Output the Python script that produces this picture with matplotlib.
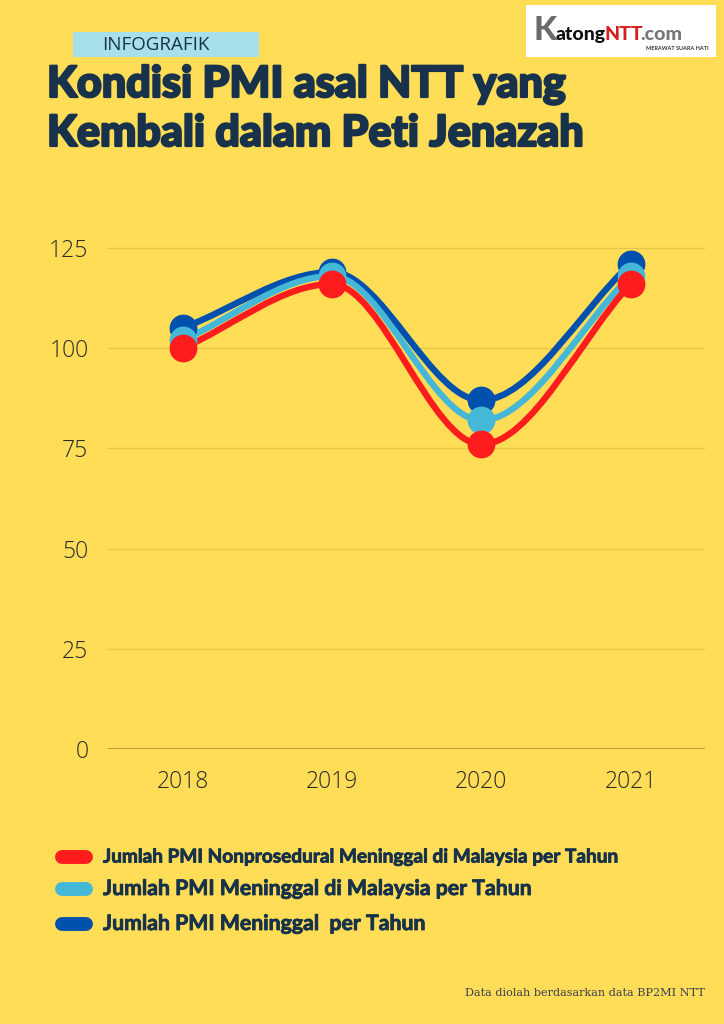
import numpy as np
import matplotlib
matplotlib.use("Agg")
import matplotlib.pyplot as plt
import matplotlib.patheffects as pe
from matplotlib.path import Path
from matplotlib.patches import PathPatch, Rectangle
from matplotlib.lines import Line2D

tahun = ["2018", "2019", "2020", "2021"]
pmi_total = [105, 119, 87, 121]
pmi_malaysia = [102, 118, 82, 118]
pmi_nonprosedural = [100, 116, 76, 116]
label_total = "Jumlah PMI Meninggal  per Tahun"
label_malaysia = "Jumlah PMI Meninggal di Malaysia per Tahun"
label_nonpro = "Jumlah PMI Nonprosedural Meninggal di Malaysia per Tahun"
y_ticks = [0, 25, 50, 75, 100, 125]

bg = "#FFDD57"
navy = "#17324a"
c_red = "#FF1C1C"
c_cyan = "#45B8D8"
c_blue = "#0050AE"


def smooth_path(xs, ys):
    # monotone cubic, drawn as bezier segments through the data points
    xs = np.asarray(xs, float)
    ys = np.asarray(ys, float)
    d = np.diff(ys) / np.diff(xs)
    m = np.zeros(len(xs))
    m[0] = d[0]
    m[-1] = d[-1]
    for i in range(1, len(xs) - 1):
        if d[i - 1] * d[i] <= 0:
            m[i] = 0
        else:
            m[i] = 2 / (1 / d[i - 1] + 1 / d[i])
    verts = [(xs[0], ys[0])]
    codes = [Path.MOVETO]
    for i in range(len(xs) - 1):
        h = xs[i + 1] - xs[i]
        verts += [(xs[i] + h / 3, ys[i] + m[i] * h / 3),
                  (xs[i + 1] - h / 3, ys[i + 1] - m[i + 1] * h / 3),
                  (xs[i + 1], ys[i + 1])]
        codes += [Path.CURVE4] * 3
    return Path(verts, codes)


fig = plt.figure(figsize=(7.24, 10.24), dpi=100)
fig.patch.set_facecolor(bg)
ax = fig.add_axes([0.149, 0.2686, 0.825, 0.5088])
ax.set_facecolor(bg)

x = np.arange(len(tahun))
for vals, col in [(pmi_total, c_blue), (pmi_malaysia, c_cyan), (pmi_nonprosedural, c_red)]:
    p = PathPatch(smooth_path(x, vals), facecolor="none", edgecolor=col, lw=4.6,
                  capstyle="round", joinstyle="round", clip_on=False)
    ax.add_patch(p)
    ax.plot(x, vals, "o", color=col, ms=19, clip_on=False, zorder=3)

ax.set_xlim(-0.5, 3.5)
ax.set_ylim(0, 130)
ax.set_yticks(y_ticks)
ax.set_xticks(x)
ax.set_xticklabels(tahun)
for s in ax.spines.values():
    s.set_visible(False)
ax.grid(axis="y", color="#E8C547", lw=1)
ax.axhline(0, color="#A89434", lw=1.2)
ax.set_axisbelow(True)
ax.tick_params(length=0, labelsize=16.5, labelcolor="#2a2a2a")
ax.tick_params(axis="x", pad=15)
ax.tick_params(axis="y", pad=14)
for t in ax.get_xticklabels() + ax.get_yticklabels():
    t.set_fontfamily("Open Sans")
    t.set_fontweight("light")

# header
fig.patches.append(Rectangle((73 / 724, 1 - 57 / 1024), 186 / 724, 25 / 1024,
                             transform=fig.transFigure, facecolor="#A8E0EA", edgecolor="none"))
fig.text(156 / 724, 1 - 45 / 1024, "INFOGRAFIK", fontsize=13.5, color=navy,
         family="Open Sans", ha="center", va="center")
thick = [pe.withStroke(linewidth=1.6, foreground=navy)]
fig.text(47 / 724, 1 - 97 / 1024, "Kondisi PMI asal NTT yang", fontsize=31, color=navy,
         family="Lato", fontweight="black", ha="left", va="baseline", path_effects=thick)
fig.text(47 / 724, 1 - 146 / 1024, "Kembali dalam Peti Jenazah", fontsize=31, color=navy,
         family="Lato", fontweight="black", ha="left", va="baseline", path_effects=thick)

# logo box
fig.patches.append(Rectangle((526 / 724, 1 - 57 / 1024), 190 / 724, 52 / 1024,
                             transform=fig.transFigure, facecolor="white", edgecolor="none"))
fig.text(533 / 724, 1 - 40 / 1024, "K", fontsize=24, color="#6b6b6b", family="Lato",
         fontweight="black", va="baseline")
fig.text(556 / 724, 1 - 40 / 1024, "atong", fontsize=14, color="#111111", family="Lato",
         fontweight="black", va="baseline")
fig.text(605 / 724, 1 - 40 / 1024, "NTT", fontsize=14, color="#d81e1e", family="Lato",
         fontweight="black", va="baseline")
fig.text(640 / 724, 1 - 40 / 1024, ".com", fontsize=14, color="#777777", family="Lato",
         fontweight="black", va="baseline")
fig.text(709 / 724, 1 - 50 / 1024, "MERAWAT SUARA HATI", fontsize=4, color="#333333",
         family="Lato", fontweight="bold", ha="right", va="baseline")

# legend
rows = [(label_nonpro, c_red, 857, 13.7),
        (label_malaysia, c_cyan, 889, 15.3),
        (label_total, c_blue, 924, 15.3)]
for lab, col, yy, fs in rows:
    fy = 1 - yy / 1024
    fig.lines.append(Line2D([62 / 724, 86 / 724], [fy, fy], transform=fig.transFigure,
                            color=col, lw=10, solid_capstyle="round"))
    fig.text(103 / 724, fy, lab, fontsize=fs, color=navy, family="Lato",
             fontweight="bold", ha="left", va="center",
             path_effects=[pe.withStroke(linewidth=0.6, foreground=navy)])

fig.text(705 / 724, 1 - 993 / 1024, "Data diolah berdasarkan data BP2MI NTT", fontsize=8.1,
         color="#3a4050", family="DejaVu Serif", ha="right", va="center")

fig.savefig("out.png", dpi=100, facecolor=bg)
